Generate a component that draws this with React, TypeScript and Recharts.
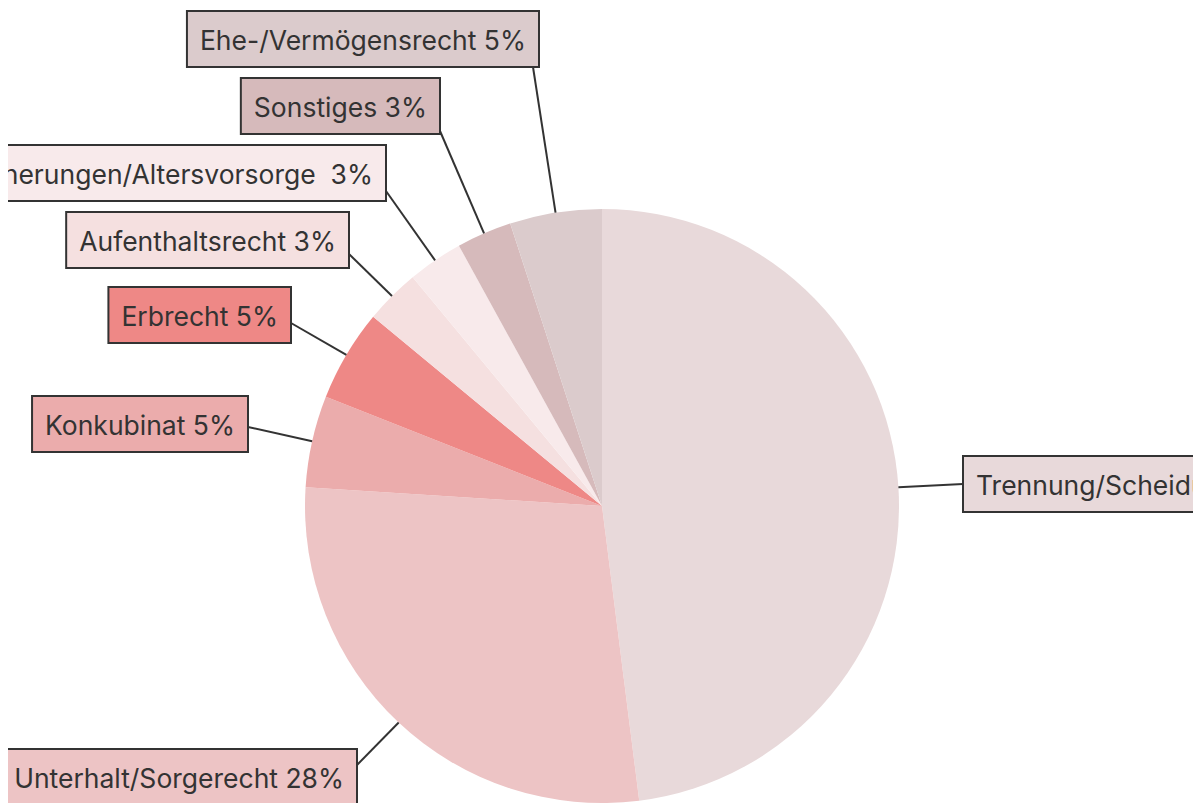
import { PieChart, Pie, Cell } from 'recharts';

const categories = [
  'Trennung/Scheidung',
  'Unterhalt/Sorgerecht',
  'Konkubinat',
  'Erbrecht',
  'Aufenthaltsrecht',
  'Versicherungen/Altersvorsorge ',
  'Sonstiges',
  'Ehe-/Vermögensrecht',
];
const shares = [48, 28, 5, 5, 3, 3, 3, 5];
const colors = ['#e8d9da', '#edc4c5', '#ebacac', '#ee8886', '#f5e0e0', '#f8eaeb', '#d6babb', '#dbcbcc'];

// label box placement, offsets from the pie centre
// bx = box edge nearest the pie, by = box top, ex/ey = end of the leader line
const labelLayout = [
  { side: 'right', bx: 361, by: -50, ex: 361, ey: -22 },
  { side: 'left', bx: -245, by: 243, ex: -245, ey: 259 },
  { side: 'left', bx: -354, by: -110, ex: -354, ey: -79 },
  { side: 'left', bx: -311, by: -219, ex: -311, ey: -183 },
  { side: 'left', bx: -253, by: -294, ex: -253, ey: -252 },
  { side: 'left', bx: -216, by: -361, ex: -216, ey: -315 },
  { side: 'left', bx: -162, by: -428, ex: -162, ey: -375 },
  { side: 'left', bx: -63, by: -495, ex: -69, ey: -439 },
];

const data = categories.map((name, i) => ({ name, value: shares[i] }));

const FONT = '26.5px Inter';
let ctx: CanvasRenderingContext2D | null = null;
function textWidth(s: string) {
  if (!ctx) ctx = document.createElement('canvas').getContext('2d');
  if (!ctx) return s.length * 14;
  ctx.font = FONT;
  return ctx.measureText(s).width;
}

const RADIAN = Math.PI / 180;

function renderLabel(props: any) {
  const { cx, cy, midAngle, outerRadius, index } = props;
  const l = labelLayout[index];
  const text = `${categories[index]} ${shares[index]}%`;
  const w = textWidth(text) + 26;
  const h = 56;
  const sx = cx + outerRadius * Math.cos(-midAngle * RADIAN);
  const sy = cy + outerRadius * Math.sin(-midAngle * RADIAN);
  const left = l.side === 'left' ? cx + l.bx - w : cx + l.bx;
  const top = cy + l.by;
  return (
    <g key={`lbl-${index}`}>
      <line x1={sx} y1={sy} x2={cx + l.ex} y2={cy + l.ey} stroke="#333" strokeWidth={2} />
      <rect x={left} y={top} width={w} height={h} fill={colors[index]} stroke="#333" strokeWidth={2} />
      <text
        x={left + 13}
        y={top + h / 2 + 1}
        dominantBaseline="central"
        fill="#333"
        style={{ font: FONT, whiteSpace: 'pre' }}
      >
        {text}
      </text>
    </g>
  );
}

export default function App() {
  return (
    <div style={{ width: 1185, height: 795 }}>
      <PieChart width={1185} height={795} margin={{ top: 0, right: 0, bottom: 0, left: 0 }}>
        <Pie
          data={data}
          dataKey="value"
          nameKey="name"
          cx={594}
          cy={498}
          outerRadius={297}
          startAngle={90}
          endAngle={-270}
          stroke="none"
          label={renderLabel}
          labelLine={false}
          isAnimationActive={false}
        >
          {data.map((d, i) => (
            <Cell key={d.name} fill={colors[i]} />
          ))}
        </Pie>
      </PieChart>
    </div>
  );
}
